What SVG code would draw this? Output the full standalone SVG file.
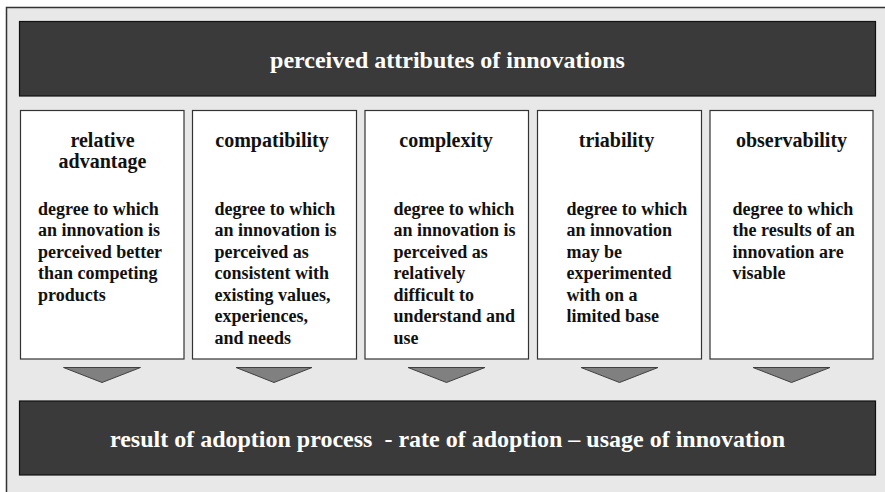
<svg xmlns="http://www.w3.org/2000/svg" width="885" height="492" viewBox="0 0 885 492">
<style>
.bg{fill:#e8e8e8;stroke:#333;stroke-width:1.5}
.bar{fill:#3a3a3a;stroke:#111;stroke-width:1.2}
.box{fill:#fff;stroke:#333;stroke-width:1.2}
.arr{fill:#808080;stroke:#404040;stroke-width:1}
text{font-family:"Liberation Serif","Times New Roman",serif;font-weight:bold}
.bt{fill:#fff;font-size:24px;text-anchor:middle}
.tt{fill:#111;font-size:20px;text-anchor:middle}
.bd{fill:#111;font-size:18px}
</style>
<rect class="bg" x="6.5" y="7.5" width="900" height="500"/>
<g id="top">
<rect class="bar" x="19.5" y="21.5" width="856" height="74.5"/>
<text class="bt" x="447.5" y="68">perceived attributes of innovations</text>
</g>
<g id="box1">
<rect class="box" x="20.5" y="110.5" width="163.5" height="248.5"/>
<text class="tt" x="102.5" y="147">relative</text>
<text class="tt" x="102.5" y="168">advantage</text>
<text class="bd" x="38" y="214.5">degree to which</text>
<text class="bd" x="38" y="236">an innovation is</text>
<text class="bd" x="38" y="257.5">perceived better</text>
<text class="bd" x="38" y="279">than competing</text>
<text class="bd" x="38" y="300.5">products</text>
</g>
<g id="box2">
<rect class="box" x="192.5" y="110.5" width="164" height="248.5"/>
<text class="tt" x="272" y="147">compatibility</text>
<text class="bd" x="214.5" y="214.5">degree to which</text>
<text class="bd" x="214.5" y="236">an innovation is</text>
<text class="bd" x="214.5" y="257.5">perceived as</text>
<text class="bd" x="214.5" y="279">consistent with</text>
<text class="bd" x="214.5" y="300.5">existing values,</text>
<text class="bd" x="214.5" y="322">experiences,</text>
<text class="bd" x="214.5" y="343.5">and needs</text>
</g>
<g id="box3">
<rect class="box" x="365" y="110.5" width="163.5" height="248.5"/>
<text class="tt" x="446" y="147">complexity</text>
<text class="bd" x="393.5" y="214.5">degree to which</text>
<text class="bd" x="393.5" y="236">an innovation is</text>
<text class="bd" x="393.5" y="257.5">perceived as</text>
<text class="bd" x="393.5" y="279">relatively</text>
<text class="bd" x="393.5" y="300.5">difficult to</text>
<text class="bd" x="393.5" y="322">understand and</text>
<text class="bd" x="393.5" y="343.5">use</text>
</g>
<g id="box4">
<rect class="box" x="537.5" y="110.5" width="164" height="248.5"/>
<text class="tt" x="616.5" y="147">triability</text>
<text class="bd" x="566.5" y="214.5">degree to which</text>
<text class="bd" x="566.5" y="236">an innovation</text>
<text class="bd" x="566.5" y="257.5">may be</text>
<text class="bd" x="566.5" y="279">experimented</text>
<text class="bd" x="566.5" y="300.5">with on a</text>
<text class="bd" x="566.5" y="322">limited base</text>
</g>
<g id="box5">
<rect class="box" x="710" y="110.5" width="163" height="248.5"/>
<text class="tt" x="791.5" y="147">observability</text>
<text class="bd" x="732.5" y="214.5">degree to which</text>
<text class="bd" x="732.5" y="236">the results of an</text>
<text class="bd" x="732.5" y="257.5">innovation are</text>
<text class="bd" x="732.5" y="279">visable</text>
</g>
<g id="connectors">
<polygon class="arr" points="63.5,367.5 140.5,367.5 102,382.5"/>
<polygon class="arr" points="236,367.5 312,367.5 274,382.5"/>
<polygon class="arr" points="408,367.5 485,367.5 446.5,382.5"/>
<polygon class="arr" points="581,367.5 658,367.5 619.5,382.5"/>
<polygon class="arr" points="753,367.5 830,367.5 791.5,382.5"/>
</g>
<g id="bottom">
<rect class="bar" x="19.5" y="401" width="856" height="74"/>
<text class="bt" x="447.5" y="447" xml:space="preserve">result of adoption process  - rate of adoption – usage of innovation</text>
</g>
</svg>
